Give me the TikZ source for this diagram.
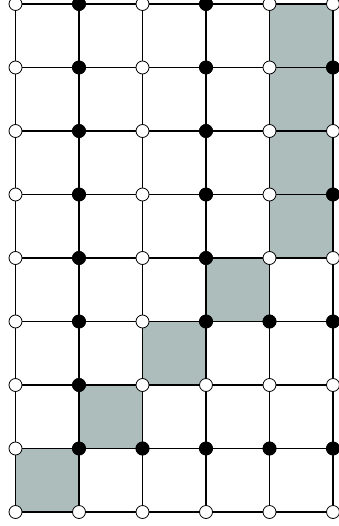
\documentclass[tikz,border=0pt]{standalone}
\usetikzlibrary{backgrounds}
\definecolor{shade}{RGB}{173,189,188}
\begin{document}
\begin{tikzpicture}[x=1pt,y=-1pt,
  vtx/.style={circle,draw=black,line width=0.8pt,minimum size=13pt,inner sep=0pt},
  wv/.style={vtx,fill=white},
  bv/.style={vtx,fill=black},
  edge/.style={draw=black,line width=1.2pt},
  cell/.style={fill=shade,draw=black!75,line width=1.2pt}]
\useasboundingbox (0,0) rectangle (338,526);
% vertices
\foreach \j in {0,...,8}{
  \foreach \i in {0,...,5}{
    \node[wv] (n-\i-\j) at ({15.5+63.5*\i},{4+63.5*\j}) {};
  }
}
% black vertices (redrawn on top)
\foreach \i/\j in {1/0,1/1,1/2,1/3,1/4,1/5,1/6,1/7,
                   3/0,3/1,3/2,3/3,3/4,3/5,3/7,
                   2/7,4/5,4/7,5/1,5/3,5/5,5/7}{
  \node[bv] at (n-\i-\j) {};
}
\begin{scope}[on background layer]
  % shaded cells
  \foreach \i/\j in {4/0,4/1,4/2,4/3,3/4,2/5,1/6,0/7}{
    \pgfmathtruncatemacro{\ii}{\i+1}
    \pgfmathtruncatemacro{\jj}{\j+1}
    \path[cell] (n-\i-\j.center) rectangle (n-\ii-\jj.center);
  }
  % horizontal edges
  \foreach \j in {0,...,8}{
    \foreach \i [evaluate=\i as \ii using int(\i+1)] in {0,...,4}{
      \draw[edge] (n-\i-\j.center) -- (n-\ii-\j.center);
    }
  }
  % vertical edges
  \foreach \i in {0,...,5}{
    \foreach \j [evaluate=\j as \jj using int(\j+1)] in {0,...,7}{
      \draw[edge] (n-\i-\j.center) -- (n-\i-\jj.center);
    }
  }
\end{scope}
\end{tikzpicture}
\end{document}
